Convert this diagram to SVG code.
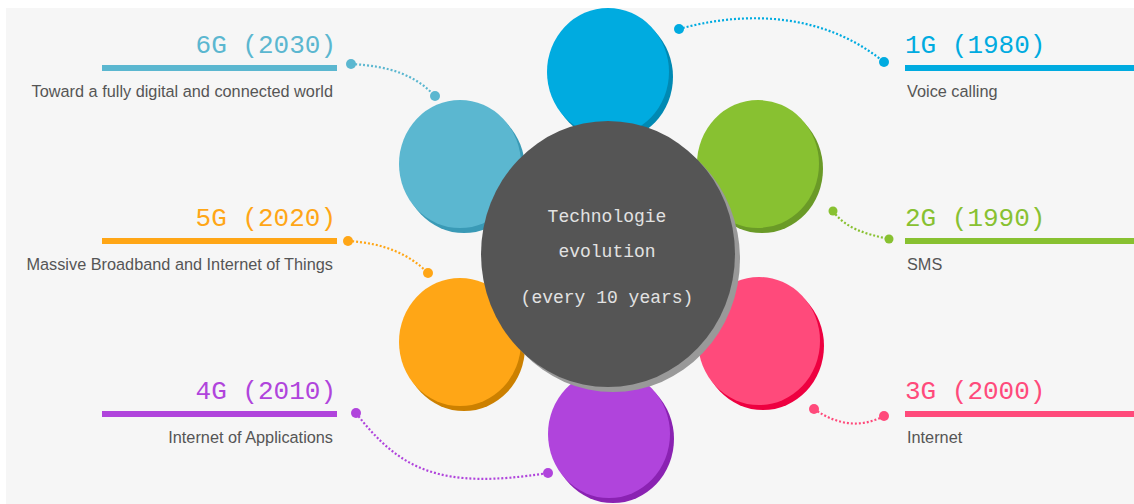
<svg xmlns="http://www.w3.org/2000/svg" width="1134" height="504" viewBox="0 0 1134 504">
<style>
.ttl{font-family:"Liberation Mono","Courier New",monospace;font-size:26px}
.dsc{font-family:"Liberation Sans",Arial,sans-serif;font-size:16.3px;fill:#555}
.ctr{font-family:"Liberation Mono","Courier New",monospace;font-size:18px;fill:#e2e2e2;text-anchor:middle}
.con{fill:none;stroke-width:2.2;stroke-dasharray:2 2}
</style>
<rect x="0" y="0" width="1134" height="504" fill="#ffffff"/>
<rect x="6" y="8" width="1128" height="496" fill="#f6f6f6"/>

<g id="node-1g">
<ellipse cx="612" cy="77" rx="61" ry="64" fill="#0089b3"/>
<ellipse cx="608" cy="72" rx="61" ry="64" fill="#00abe0"/>
<text class="ttl" x="905" y="53" fill="#00abe0">1G (1980)</text>
<rect x="905" y="65" width="229" height="6" fill="#00abe0"/>
<text class="dsc" x="907" y="97">Voice calling</text>
</g>
<g id="node-6g">
<ellipse cx="464" cy="169" rx="61" ry="64" fill="#3a9ab6"/>
<ellipse cx="460" cy="164" rx="61" ry="64" fill="#5bb7d0"/>
<text class="ttl" x="336" y="53" fill="#5bb7d0" text-anchor="end">6G (2030)</text>
<rect x="102" y="65" width="235" height="6" fill="#5bb7d0"/>
<text class="dsc" x="333" y="97" text-anchor="end">Toward a fully digital and connected world</text>
</g>
<g id="node-2g">
<ellipse cx="762" cy="169" rx="61" ry="64" fill="#6a9a27"/>
<ellipse cx="758" cy="164" rx="61" ry="64" fill="#88c131"/>
<text class="ttl" x="905" y="226" fill="#88c131">2G (1990)</text>
<rect x="905" y="238" width="229" height="6" fill="#88c131"/>
<text class="dsc" x="907" y="270">SMS</text>
</g>
<g id="node-5g">
<ellipse cx="464" cy="347" rx="61" ry="64" fill="#cc8000"/>
<ellipse cx="460" cy="342" rx="61" ry="64" fill="#ffa616"/>
<text class="ttl" x="336" y="226" fill="#ffa616" text-anchor="end">5G (2020)</text>
<rect x="102" y="238" width="235" height="6" fill="#ffa616"/>
<text class="dsc" x="333" y="270" text-anchor="end">Massive Broadband and Internet of Things</text>
</g>
<g id="node-3g">
<ellipse cx="763" cy="346" rx="61" ry="64" fill="#ee0040"/>
<ellipse cx="759" cy="341" rx="61" ry="64" fill="#ff4a7b"/>
<text class="ttl" x="905" y="399" fill="#ff4a7b">3G (2000)</text>
<rect x="905" y="411" width="229" height="6" fill="#ff4a7b"/>
<text class="dsc" x="907" y="443">Internet</text>
</g>
<g id="node-4g">
<ellipse cx="613" cy="439" rx="61" ry="64" fill="#8a22b2"/>
<ellipse cx="609" cy="434" rx="61" ry="64" fill="#b044dc"/>
<text class="ttl" x="336" y="399" fill="#b044dc" text-anchor="end">4G (2010)</text>
<rect x="102" y="411" width="235" height="6" fill="#b044dc"/>
<text class="dsc" x="333" y="443" text-anchor="end">Internet of Applications</text>
</g>

<g id="node-center">
<ellipse cx="613" cy="259" rx="127" ry="133" fill="#999999"/>
<ellipse cx="608" cy="254" rx="127" ry="133" fill="#555555"/>
<text class="ctr" x="607" y="222">Technologie</text>
<text class="ctr" x="607" y="257">evolution</text>
<text class="ctr" x="607" y="303">(every 10 years)</text>
</g>

<g id="connectors">
<path class="con" stroke="#00abe0" d="M679,29 C740,12 820,10 884,62"/>
<circle cx="679" cy="29" r="5" fill="#00abe0"/>
<circle cx="884" cy="62" r="5" fill="#00abe0"/>
<path class="con" stroke="#5bb7d0" d="M351,64 C390,66 415,75 435,96"/>
<circle cx="351" cy="64" r="5" fill="#5bb7d0"/>
<circle cx="435" cy="96" r="5" fill="#5bb7d0"/>
<path class="con" stroke="#ffa616" d="M348,241 C385,243 410,255 428,273"/>
<circle cx="348" cy="241" r="5" fill="#ffa616"/>
<circle cx="428" cy="273" r="5" fill="#ffa616"/>
<path class="con" stroke="#b044dc" d="M356,413 C400,470 440,490 548,473"/>
<circle cx="356" cy="413" r="5" fill="#b044dc"/>
<circle cx="548" cy="473" r="5" fill="#b044dc"/>
<path class="con" stroke="#88c131" d="M833,211 C845,228 865,234 889,239"/>
<circle cx="833" cy="211" r="4.5" fill="#88c131"/>
<circle cx="889" cy="239" r="4.5" fill="#88c131"/>
<path class="con" stroke="#ff4a7b" d="M814,409 Q850,434 884,416"/>
<circle cx="814" cy="409" r="5" fill="#ff4a7b"/>
<circle cx="884" cy="416" r="5" fill="#ff4a7b"/>
</g>
</svg>
